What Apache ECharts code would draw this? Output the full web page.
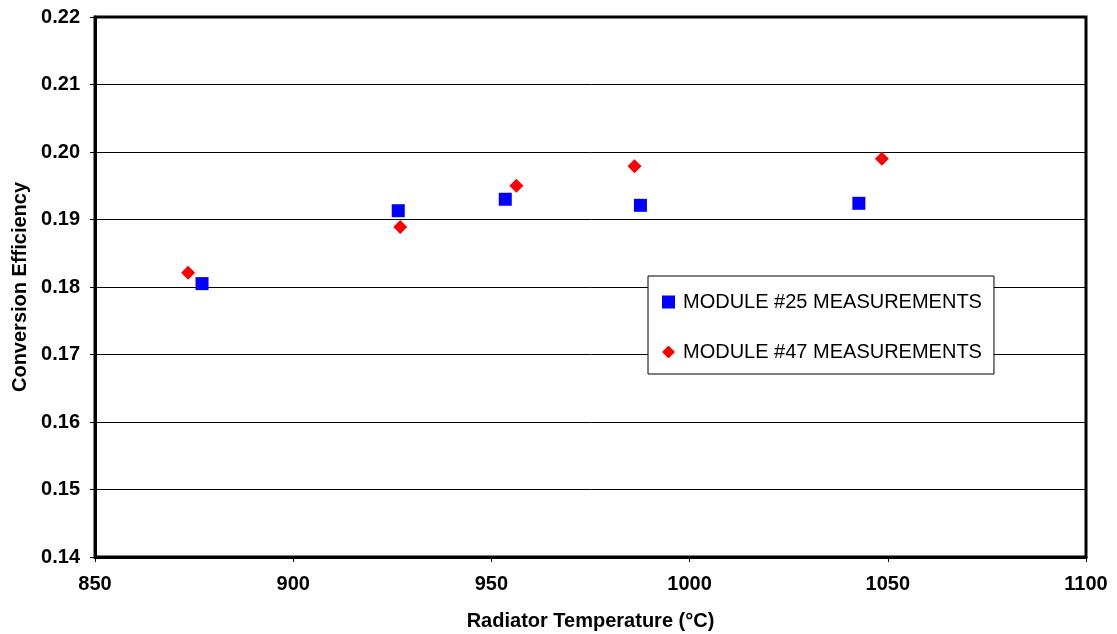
<!DOCTYPE html>
<html>
<head>
<meta charset="utf-8">
<script src="https://cdn.jsdelivr.net/npm/echarts@6/dist/echarts.min.js"></script>
<style>
  html, body { margin: 0; padding: 0; background: #fff; }
  #chart { width: 1117px; height: 634px; }
</style>
</head>
<body>
<div id="chart"></div>
<script>
// radiator temperature (°C) vs conversion efficiency
const module25Temp = [877, 926.5, 953.5, 987.6, 1042.7];
const module25Eff = [0.1805, 0.1913, 0.1930, 0.1921, 0.1924];
const module47Temp = [873.5, 927, 956.3, 986.1, 1048.5];
const module47Eff = [0.1821, 0.1889, 0.1950, 0.1979, 0.1990];

const xTicks = { min: 850, max: 1100, interval: 50 };
const yTicks = { min: 0.14, max: 0.22, interval: 0.01 };

const font = 'Liberation Sans, Arial, sans-serif';

const pairs = (xs, ys) => xs.map((x, i) => [x, ys[i]]);

const chart = echarts.init(document.getElementById('chart'));

chart.setOption({
  backgroundColor: '#fff',
  animation: false,
  grid: {
    left: 95, right: 31, top: 17, bottom: 77,
    outerBoundsMode: 'none',
    containLabel: false,
    show: true, borderColor: '#000', borderWidth: 3, backgroundColor: '#fff'
  },
  legend: {
    orient: 'vertical',
    left: 648, top: 276,
    padding: [16, 12, 12, 14],
    itemGap: 30,
    itemWidth: 13, itemHeight: 13,
    backgroundColor: '#fff',
    borderColor: '#000', borderWidth: 1,
    textStyle: { fontFamily: font, fontSize: 20, color: '#000', padding: [0, 0, 0, 3] },
    data: [
      { name: 'MODULE #25 MEASUREMENTS', icon: 'rect' },
      { name: 'MODULE #47 MEASUREMENTS', icon: 'diamond' }
    ]
  },
  xAxis: {
    type: 'value',
    min: xTicks.min, max: xTicks.max, interval: xTicks.interval,
    name: 'Radiator Temperature (°C)',
    nameLocation: 'middle', nameGap: 54,
    nameTextStyle: { fontFamily: font, fontSize: 20, fontWeight: 'bold', color: '#000' },
    axisLine: { lineStyle: { color: '#000', width: 3 } },
    axisTick: { show: true, length: 5, lineStyle: { color: '#000' } },
    axisLabel: {
      fontFamily: font, fontSize: 20, fontWeight: 'bold', color: '#000', margin: 17,
      formatter: (v) => String(v)
    },
    splitLine: { show: false }
  },
  yAxis: {
    type: 'value',
    min: yTicks.min, max: yTicks.max, interval: yTicks.interval,
    name: 'Conversion Efficiency',
    nameLocation: 'middle', nameGap: 64,
    nameTextStyle: { fontFamily: font, fontSize: 20, fontWeight: 'bold', color: '#000' },
    axisLine: { lineStyle: { color: '#000', width: 3 } },
    axisTick: { show: true, length: 5, lineStyle: { color: '#000' } },
    axisLabel: {
      fontFamily: font, fontSize: 20, fontWeight: 'bold', color: '#000', margin: 15,
      formatter: (v) => v.toFixed(2)
    },
    splitLine: { show: true, lineStyle: { color: '#000', width: 1 } }
  },
  series: [
    {
      name: 'MODULE #25 MEASUREMENTS',
      type: 'scatter',
      symbol: 'rect',
      symbolSize: 13,
      itemStyle: { color: '#0000ff', opacity: 1 },
      data: pairs(module25Temp, module25Eff)
    },
    {
      name: 'MODULE #47 MEASUREMENTS',
      type: 'scatter',
      symbol: 'diamond',
      symbolSize: 14,
      itemStyle: { color: '#ff0000', opacity: 1 },
      data: pairs(module47Temp, module47Eff)
    }
  ]
});
</script>
</body>
</html>
